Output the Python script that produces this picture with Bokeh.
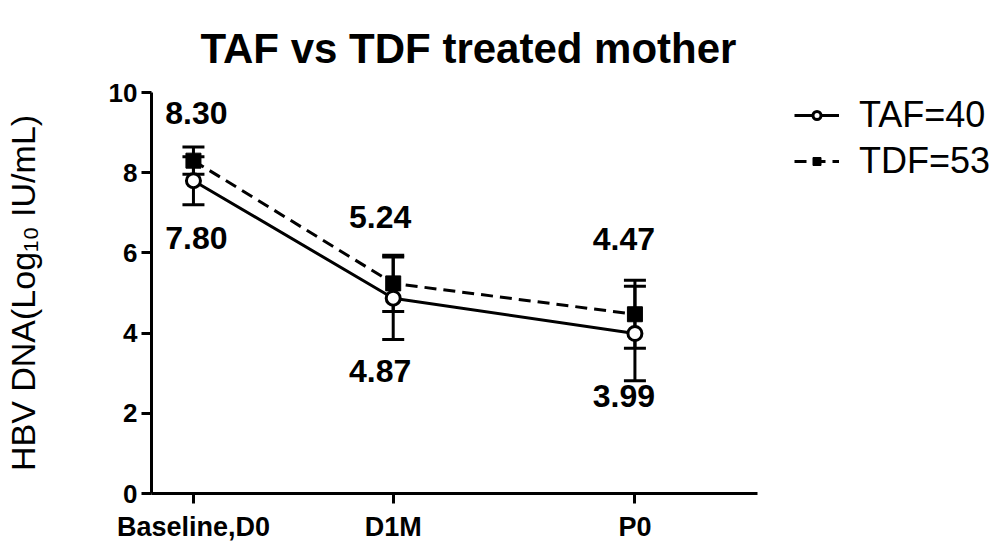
from bokeh.plotting import figure
from bokeh.models import (ColumnDataSource, Range1d, FixedTicker, Legend, LegendItem,
                          Whisker, TeeHead)
from bokeh.core.properties import value
from bokeh.embed import file_html
from bokeh.resources import INLINE

# ---- data ----
categories = ["Baseline,D0", "D1M", "P0"]
x_pos = [0, 1, 2.21]
taf_mean = [7.80, 4.87, 3.99]
taf_sd = [0.60, 1.03, 1.18]
tdf_mean = [8.30, 5.24, 4.47]
tdf_sd = [0.34, 0.70, 0.85]
taf_text = ["7.80", "4.87", "3.99"]
tdf_text = ["8.30", "5.24", "4.47"]
y_ticks = [0, 2, 4, 6, 8, 10]
legend_labels = ["TAF=40", "TDF=53"]

# ---- label placement (screen pixels) ----
taf_dx = [3, -13, -11]
taf_dy = [57, 73, 62]
tdf_dx = [3, -13, -11]
tdf_dy = [-48, -66, -75]

FONT = "Liberation Sans"

taf = ColumnDataSource(dict(
    x=x_pos, y=taf_mean,
    lo=[m - s for m, s in zip(taf_mean, taf_sd)],
    hi=[m + s for m, s in zip(taf_mean, taf_sd)],
    t=taf_text, dx=taf_dx, dy=taf_dy))
tdf = ColumnDataSource(dict(
    x=x_pos, y=tdf_mean,
    lo=[m - s for m, s in zip(tdf_mean, tdf_sd)],
    hi=[m + s for m, s in zip(tdf_mean, tdf_sd)],
    t=tdf_text, dx=tdf_dx, dy=tdf_dy))

p = figure(width=992, height=544, x_range=Range1d(-0.21, 4.0), y_range=Range1d(0, 10),
           output_backend="svg", toolbar_location=None,
           min_border_left=150, min_border_right=0, min_border_top=92, min_border_bottom=48)
p.outline_line_color = None
p.xgrid.visible = False
p.ygrid.visible = False

p.title.text = "TAF vs TDF treated mother"
p.title.text_font = FONT
p.title.text_font_style = "bold"
p.title.text_font_size = "42px"
p.title.text_color = "black"
p.title.align = "left"
p.title.offset = 49
p.title.vertical_align = "top"
p.title.standoff = 38

# axes
for ax in (p.xaxis[0], p.yaxis[0]):
    ax.axis_line_width = 3
    ax.major_tick_line_width = 3
    ax.major_tick_out = 10
    ax.major_tick_in = 0
    ax.minor_tick_line_color = None
    ax.major_label_text_font = FONT
    ax.major_label_text_font_style = "bold"
    ax.major_label_text_color = "black"

p.yaxis.ticker = FixedTicker(ticks=y_ticks)
p.yaxis.major_label_text_font_size = "26px"
p.yaxis.major_label_standoff = 4
p.yaxis.axis_label = "HBV DNA(Log\u2081\u2080 IU/mL)"
p.yaxis.axis_label_text_font = FONT
p.yaxis.axis_label_text_font_style = "normal"
p.yaxis.axis_label_text_font_size = "34px"
p.yaxis.axis_label_text_color = "black"
p.yaxis.axis_label_standoff = 64

p.xaxis.ticker = FixedTicker(ticks=x_pos)
p.xaxis.bounds = (-0.21, 2.825)
p.xaxis.major_label_overrides = {x: c for x, c in zip(x_pos, categories)}
p.xaxis.major_label_text_font_size = "27px"
p.xaxis.major_label_standoff = 8
p.xaxis.axis_label_standoff = 0

# lines
taf_line = p.line("x", "y", source=taf, line_color="black", line_width=3)
tdf_line = p.line("x", "y", source=tdf, line_color="black", line_width=3, line_dash="12 7")

# error bars
for src in (taf, tdf):
    w = Whisker(source=src, base="x", lower="lo", upper="hi", line_width=3, line_color="black",
                upper_head=TeeHead(size=22, line_width=3, line_color="black"),
                lower_head=TeeHead(size=22, line_width=3, line_color="black"))
    p.add_layout(w)

# markers
tdf_mark = p.scatter("x", "y", source=tdf, marker="square", size=15,
                     fill_color="black", line_color="black", line_width=1)
taf_mark = p.scatter("x", "y", source=taf, marker="circle", size=14,
                     fill_color="white", line_color="black", line_width=3)

# value labels
for src in (taf, tdf):
    p.text("x", "y", text="t", source=src, x_offset="dx", y_offset="dy",
           text_font=value(FONT), text_font_style="bold", text_font_size="32px",
           text_align="center", text_baseline="middle", text_color="black")

legend = Legend(items=[
    LegendItem(label=legend_labels[0], renderers=[taf_line, taf_mark]),
    LegendItem(label=legend_labels[1], renderers=[tdf_line, tdf_mark]),
], location=(643, 311))
legend.margin = 0
legend.padding = 0
legend.label_text_font = FONT
legend.label_text_font_size = "36px"
legend.label_text_color = "black"
legend.glyph_width = 45
legend.glyph_height = 20
legend.label_standoff = 20
legend.spacing = 4
legend.border_line_color = None
legend.background_fill_alpha = 0
p.add_layout(legend)

open("out.html", "w").write(file_html(p, INLINE))
